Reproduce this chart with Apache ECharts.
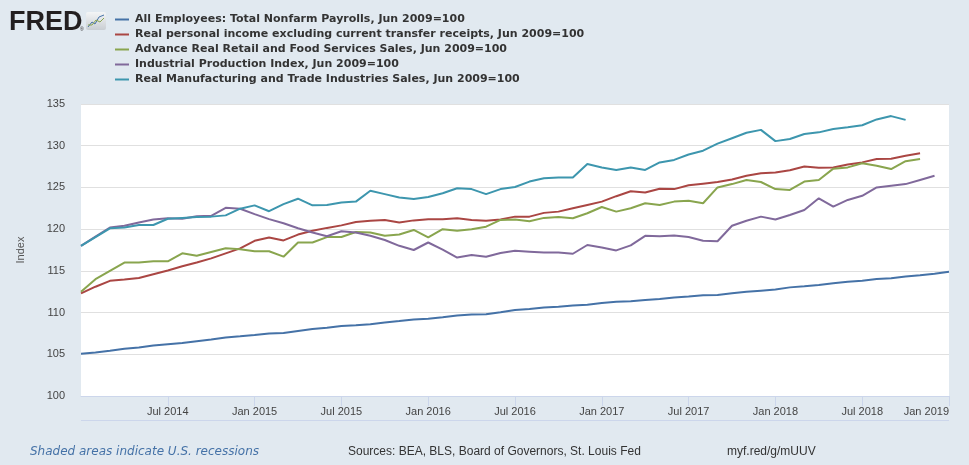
<!DOCTYPE html>
<html>
<head>
<meta charset="utf-8">
<script src="https://cdn.jsdelivr.net/npm/echarts@6/dist/echarts.min.js"></script>
<style>
html,body{margin:0;padding:0;background:#e1e9f0;}
#chart{width:969px;height:465px;}
</style>
</head>
<body>
<div id="chart"></div>
<script>
const months = [
 '2014-01','2014-02','2014-03','2014-04','2014-05','2014-06','2014-07','2014-08','2014-09','2014-10','2014-11','2014-12',
 '2015-01','2015-02','2015-03','2015-04','2015-05','2015-06','2015-07','2015-08','2015-09','2015-10','2015-11','2015-12',
 '2016-01','2016-02','2016-03','2016-04','2016-05','2016-06','2016-07','2016-08','2016-09','2016-10','2016-11','2016-12',
 '2017-01','2017-02','2017-03','2017-04','2017-05','2017-06','2017-07','2017-08','2017-09','2017-10','2017-11','2017-12',
 '2018-01','2018-02','2018-03','2018-04','2018-05','2018-06','2018-07','2018-08','2018-09','2018-10','2018-11','2018-12',
 '2019-01'
];
const seriesNames = [
 'All Employees: Total Nonfarm Payrolls, Jun 2009=100',
 'Real personal income excluding current transfer receipts, Jun 2009=100',
 'Advance Real Retail and Food Services Sales, Jun 2009=100',
 'Industrial Production Index, Jun 2009=100',
 'Real Manufacturing and Trade Industries Sales, Jun 2009=100'
];
const payrolls = [
 105.07,105.21,105.42,105.65,105.82,106.05,106.21,106.34,106.56,106.76,107.02,107.15,
 107.30,107.50,107.56,107.79,108.02,108.17,108.38,108.48,108.60,108.81,108.98,109.18,
 109.27,109.45,109.64,109.76,109.79,110.03,110.30,110.43,110.62,110.71,110.84,110.95,
 111.15,111.29,111.37,111.51,111.64,111.82,111.93,112.09,112.11,112.31,112.49,112.63,
 112.77,113.02,113.16,113.31,113.51,113.69,113.82,114.03,114.11,114.33,114.48,114.65,
 114.89
];
const income = [
 112.3,113.1,113.8,113.95,114.15,114.6,115.05,115.55,116.0,116.5,117.1,117.7,
 118.6,119.0,118.65,119.35,119.8,120.15,120.45,120.85,121.0,121.1,120.8,121.05,
 121.2,121.2,121.3,121.1,121.0,121.15,121.5,121.5,121.95,122.1,122.5,122.9,
 123.3,123.95,124.55,124.4,124.85,124.8,125.25,125.45,125.65,125.95,126.4,126.7,
 126.8,127.05,127.5,127.35,127.4,127.75,128.0,128.4,128.45,128.8,129.1
];
const retail = [
 112.5,114.0,115.0,116.0,116.0,116.15,116.15,117.1,116.8,117.25,117.7,117.6,
 117.35,117.35,116.7,118.4,118.4,119.05,119.05,119.65,119.6,119.2,119.35,119.9,
 119.0,120.0,119.8,120.0,120.3,121.1,121.15,120.95,121.35,121.45,121.3,121.9,
 122.65,122.1,122.5,123.1,122.9,123.3,123.4,123.1,125.0,125.4,125.9,125.65,
 124.8,124.7,125.7,125.9,127.25,127.4,127.9,127.6,127.2,128.15,128.4
];
const industrial = [
 118.0,119.1,120.2,120.4,120.8,121.15,121.3,121.25,121.55,121.6,122.55,122.45,
 121.8,121.2,120.7,120.1,119.6,119.15,119.75,119.6,119.2,118.7,118.0,117.5,
 118.4,117.55,116.6,116.9,116.7,117.15,117.4,117.3,117.2,117.2,117.05,118.1,
 117.8,117.45,118.05,119.2,119.15,119.25,119.05,118.6,118.55,120.4,121.0,121.5,
 121.15,121.7,122.3,123.7,122.7,123.5,124.0,125.0,125.2,125.4,125.9,126.4
];
const mfgSales = [
 118.0,119.05,120.1,120.2,120.5,120.5,121.25,121.35,121.45,121.5,121.65,122.45,
 122.85,122.15,123.0,123.65,122.85,122.9,123.2,123.3,124.6,124.2,123.8,123.6,
 123.85,124.3,124.9,124.8,124.2,124.8,125.05,125.7,126.1,126.2,126.2,127.8,
 127.4,127.1,127.4,127.1,128.0,128.3,128.95,129.4,130.25,130.9,131.55,131.9,
 130.55,130.8,131.4,131.6,132.0,132.2,132.45,133.15,133.55,133.1
];
const colors = ['#4572a7','#aa4643','#89a54e','#80699b','#3d96ae'];
const monthNames = ['Jan','Feb','Mar','Apr','May','Jun','Jul','Aug','Sep','Oct','Nov','Dec'];
const allData = [payrolls, income, retail, industrial, mfgSales];

const chart = echarts.init(document.getElementById('chart'), null, {renderer:'canvas'});
const tickFn = (i) => i % 6 === 0 && i > 0;
chart.setOption({
  backgroundColor: '#e1e9f0',
  animation: false,
  color: colors,
  grid: {left: 81, right: 20, top: 104, bottom: 69, show: true, backgroundColor: '#ffffff', borderWidth: 0},
  legend: {
    orient: 'vertical', left: 115, top: 12, padding: 0, itemGap: 0,
    itemWidth: 14, itemHeight: 2, icon: 'rect',
    textStyle: {fontFamily: 'DejaVu Sans', fontWeight: 'bold', fontSize: 11, color: '#333', lineHeight: 15, padding: [0,0,0,1]},
    data: seriesNames
  },
  xAxis: {
    type: 'category', data: months, boundaryGap: false,
    axisLine: {lineStyle: {color: '#ccd6eb', width: 1}},
    axisTick: {interval: tickFn, length: 10, lineStyle: {color: '#ccd6eb'}},
    axisLabel: {
      interval: tickFn, margin: 10, fontFamily: 'Liberation Sans', fontSize: 11, color: '#444',
      alignMaxLabel: 'right',
      formatter: (v) => monthNames[parseInt(v.slice(5), 10) - 1] + ' ' + v.slice(0, 4)
    },
    splitLine: {show: false}
  },
  yAxis: {
    type: 'value', min: 100, max: 135, interval: 5,
    name: 'Index', nameLocation: 'middle', nameGap: 55,
    nameTextStyle: {fontFamily: 'Liberation Sans', fontSize: 11, color: '#555'},
    axisLine: {show: false}, axisTick: {show: false},
    axisLabel: {margin: 16, fontFamily: 'Liberation Sans', fontSize: 11, color: '#444'},
    splitLine: {lineStyle: {color: '#e0e0e0', width: 1}}
  },
  series: seriesNames.map((n, i) => ({
    name: n, type: 'line', data: allData[i], showSymbol: false, symbol: 'none',
    lineStyle: {width: 2, color: colors[i]}, itemStyle: {color: colors[i]}, z: 2 + i
  })),
  graphic: [
    {type: 'text', left: 9, top: 9, style: {text: 'FRED', fontFamily: 'Liberation Sans', fontWeight: 'bold', fontSize: 27, fill: '#231f20'}},
    {type: 'text', left: 80, top: 27, style: {text: '®', fontFamily: 'Liberation Sans', fontSize: 5, fill: '#231f20'}},
    {type: 'rect', shape: {x: 86, y: 12, width: 20, height: 18, r: 2},
     style: {fill: {type: 'linear', x: 0, y: 0, x2: 0, y2: 1, colorStops: [{offset: 0, color: '#f4f5f6'}, {offset: 1, color: '#c9ced3'}]}}},
    {type: 'polyline', shape: {points: [[88, 27], [92, 22], [95, 24], [99, 17], [104, 15]]}, style: {stroke: '#4572a7', lineWidth: 1, fill: null}},
    {type: 'polyline', shape: {points: [[88, 25], [92, 25], [96, 20], [100, 22], [104, 18]]}, style: {stroke: '#89a54e', lineWidth: 1, fill: null}},
    {type: 'line', shape: {x1: 81, y1: 420.5, x2: 949, y2: 420.5}, style: {stroke: '#ccd6eb', lineWidth: 1}},
    {type: 'text', left: 30, top: 446, style: {text: 'Shaded areas indicate U.S. recessions', fontFamily: 'DejaVu Sans', fontStyle: 'italic', fontSize: 12, fill: '#4572a7'}},
    {type: 'text', left: 348, top: 446, style: {text: 'Sources: BEA, BLS, Board of Governors, St. Louis Fed', fontFamily: 'Liberation Sans', fontSize: 12, fill: '#333'}},
    {type: 'text', left: 727, top: 446, style: {text: 'myf.red/g/mUUV', fontFamily: 'Liberation Sans', fontSize: 12, fill: '#333'}}
  ]
});
</script>
</body>
</html>
